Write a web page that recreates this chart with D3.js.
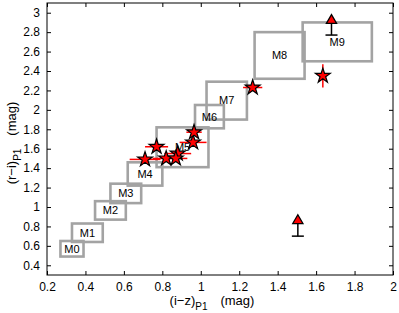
<!DOCTYPE html>
<html>
<head>
<meta charset="utf-8">
<script src="https://cdn.jsdelivr.net/npm/d3@7"></script>
<style>
  body { margin: 0; background: #fff; }
  text { font-family: "Liberation Sans", Arial, sans-serif; }
</style>
</head>
<body>
<div id="chart"></div>
<script>
// spectral type boxes: [x0, x1, y0, y1]
var boxNames = ['M0','M1','M2','M3','M4','M5','M6','M7','M8','M9'];
var boxX0 = [0.27, 0.33, 0.45, 0.53, 0.62, 0.77, 0.97, 1.03, 1.28, 1.53];
var boxX1 = [0.39, 0.49, 0.61, 0.69, 0.80, 1.04, 1.12, 1.24, 1.54, 1.89];
var boxY0 = [0.49, 0.64, 0.87, 1.04, 1.22, 1.41, 1.81, 1.90, 2.32, 2.50];
var boxY1 = [0.65, 0.83, 1.06, 1.24, 1.46, 1.82, 2.05, 2.29, 2.80, 2.90];

// detections (stars)
var starX  = [0.71, 0.77, 0.82, 0.88, 0.87, 0.96, 0.965, 1.27, 1.635];
var starY  = [1.49, 1.62, 1.50, 1.55, 1.50, 1.665, 1.77, 2.23, 2.35];
var starXe = [0.08, 0.06, 0.07, 0.07, 0.06, 0.07, 0.04, 0.05, 0.01];
var starYe = [0.02, 0.02, 0.02, 0.03, 0.03, 0.03, 0.04, 0.02, 0.12];

// lower limits (triangles)
var limX     = [1.68, 1.505];
var limBase  = [2.77, 0.70];
var limPoint = [2.92, 0.86];

var xTicks = [0.2,0.4,0.6,0.8,1,1.2,1.4,1.6,1.8,2];
var yTicks = [0.4,0.6,0.8,1,1.2,1.4,1.6,1.8,2,2.2,2.4,2.6,2.8,3];

var margin = { top: 3, right: 6, bottom: 38, left: 47 },
    width = 399 - margin.left - margin.right,
    height = 313 - margin.top - margin.bottom;

var svg = d3.select('#chart').append('svg')
    .attr('width', 399)
    .attr('height', 313)
  .append('g')
    .attr('transform', 'translate(' + margin.left + ',' + margin.top + ')');

var x = d3.scaleLinear().domain([0.2, 2]).range([0, width]);
var y = d3.scaleLinear().domain([0.3, 3.1]).range([height, 0]);

var fmt = function(d) { return d3.format('~g')(d); };

// axes with inward ticks
var xb = svg.append('g').attr('transform', 'translate(0,' + height + ')')
    .call(d3.axisBottom(x).tickValues(xTicks).tickSize(-4).tickPadding(7).tickFormat(fmt));
var xt = svg.append('g')
    .call(d3.axisTop(x).tickValues(xTicks).tickSize(-4).tickFormat(''));
var yl = svg.append('g')
    .call(d3.axisLeft(y).tickValues(yTicks).tickSize(-4).tickPadding(7).tickFormat(fmt));
var yr = svg.append('g').attr('transform', 'translate(' + width + ',0)')
    .call(d3.axisRight(y).tickValues(yTicks).tickSize(-4).tickFormat(''));

[xb, xt, yl, yr].forEach(function(g) {
  g.select('.domain').remove();
  g.selectAll('line').attr('stroke', '#000');
  g.selectAll('text').attr('fill', '#000').style('font-size', '12px');
});

svg.append('rect')
    .attr('width', width).attr('height', height)
    .attr('fill', 'none').attr('stroke', '#000').attr('stroke-width', 1);

// boxes
var boxes = boxNames.map(function(n, i) {
  return { name: n, x0: boxX0[i], x1: boxX1[i], y0: boxY0[i], y1: boxY1[i] };
});

svg.selectAll('.box')
    .data(boxes)
    .enter()
    .append('rect')
    .attr('x', function(d) { return x(d.x0); })
    .attr('y', function(d) { return y(d.y1); })
    .attr('width', function(d) { return x(d.x1) - x(d.x0); })
    .attr('height', function(d) { return y(d.y0) - y(d.y1); })
    .attr('fill', 'none')
    .attr('stroke', '#a3a3a3')
    .attr('stroke-width', 2.6);

svg.selectAll('.boxlabel')
    .data(boxes)
    .enter()
    .append('text')
    .attr('x', function(d) { return x((d.x0 + d.x1) / 2); })
    .attr('y', function(d) { return y((d.y0 + d.y1) / 2); })
    .attr('dy', '0.35em')
    .attr('text-anchor', 'middle')
    .style('font-size', '11px')
    .text(function(d) { return d.name; });

// stars with error bars
var stars = starX.map(function(v, i) {
  return { x: v, y: starY[i], xe: starXe[i], ye: starYe[i] };
});

svg.selectAll('.xerr')
    .data(stars)
    .enter()
    .append('line')
    .attr('x1', function(d) { return x(d.x - d.xe); })
    .attr('x2', function(d) { return x(d.x + d.xe); })
    .attr('y1', function(d) { return y(d.y); })
    .attr('y2', function(d) { return y(d.y); })
    .attr('stroke', '#ff0000').attr('stroke-width', 1.5);

svg.selectAll('.yerr')
    .data(stars)
    .enter()
    .append('line')
    .attr('x1', function(d) { return x(d.x); })
    .attr('x2', function(d) { return x(d.x); })
    .attr('y1', function(d) { return y(d.y - d.ye); })
    .attr('y2', function(d) { return y(d.y + d.ye); })
    .attr('stroke', '#ff0000').attr('stroke-width', 1.5);

svg.selectAll('.star')
    .data(stars)
    .enter()
    .append('path')
    .attr('d', d3.symbol().type(d3.symbolStar).size(68))
    .attr('transform', function(d) { return 'translate(' + x(d.x) + ',' + y(d.y) + ')'; })
    .attr('fill', '#ff0000')
    .attr('stroke', '#000')
    .attr('stroke-width', 1.2);

// lower limits
var lims = limX.map(function(v, i) {
  return { x: v, base: limBase[i], pt: limPoint[i] };
});

svg.selectAll('.limline')
    .data(lims)
    .enter()
    .append('line')
    .attr('x1', function(d) { return x(d.x); })
    .attr('x2', function(d) { return x(d.x); })
    .attr('y1', function(d) { return y(d.base); })
    .attr('y2', function(d) { return y(d.pt); })
    .attr('stroke', '#000').attr('stroke-width', 1.5);

svg.selectAll('.limcap')
    .data(lims)
    .enter()
    .append('line')
    .attr('x1', function(d) { return x(d.x) - 6; })
    .attr('x2', function(d) { return x(d.x) + 6; })
    .attr('y1', function(d) { return y(d.base); })
    .attr('y2', function(d) { return y(d.base); })
    .attr('stroke', '#000').attr('stroke-width', 1.5);

svg.selectAll('.limtri')
    .data(lims)
    .enter()
    .append('path')
    .attr('d', d3.symbol().type(d3.symbolTriangle).size(45))
    .attr('transform', function(d) { return 'translate(' + x(d.x) + ',' + y(d.pt) + ')'; })
    .attr('fill', '#ff0000')
    .attr('stroke', '#000')
    .attr('stroke-width', 1.3);

// axis labels
var xl = svg.append('text')
    .attr('x', width / 2 - 8)
    .attr('y', height + 30)
    .attr('text-anchor', 'middle')
    .style('font-size', '13px');
xl.append('tspan').text('(i\u2212z)');
xl.append('tspan').attr('dy', 5).style('font-size', '10px').text('P1');
xl.append('tspan').attr('dy', -5).text('\u2003(mag)');

var ylab = svg.append('text')
    .attr('transform', 'translate(' + (-31) + ',' + (height / 2 + 4) + ')rotate(-90)')
    .attr('text-anchor', 'middle')
    .style('font-size', '13px');
ylab.append('tspan').text('(r\u2212i)');
ylab.append('tspan').attr('dy', 5).style('font-size', '10px').text('P1');
ylab.append('tspan').attr('dy', -5).text('\u2003(mag)');
</script>
</body>
</html>
